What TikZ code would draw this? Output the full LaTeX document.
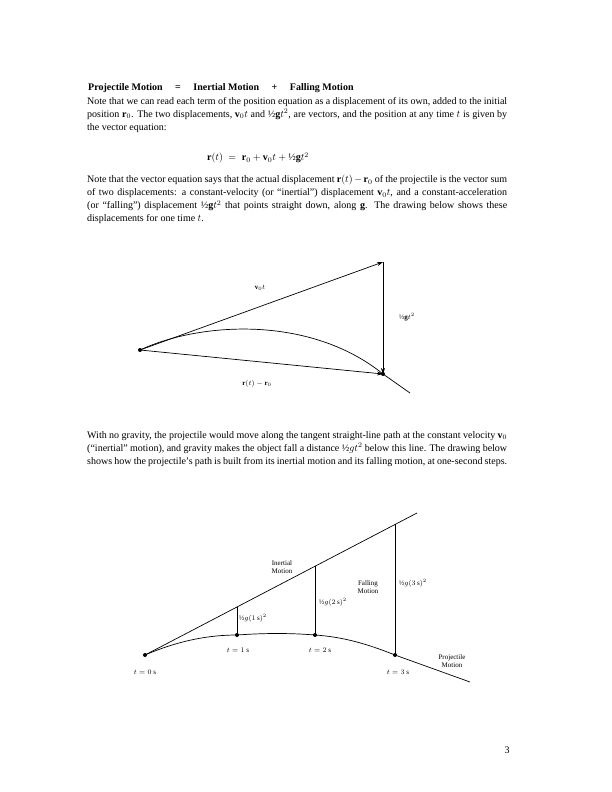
\documentclass[tikz,border=0pt]{standalone}
\usepackage{amsmath}
\usepackage{fontspec}
\setmainfont{Liberation Serif}
\usetikzlibrary{arrows.meta}

\newcommand{\hlf}{\text{\textonehalf}}
\newcommand{\bv}[1]{\text{\textbf{#1}}}

\tikzset{
  para/.style={anchor=north west, text width=420pt, align=justify, inner sep=0pt,
    font=\fontsize{10}{13}\selectfont},
  lbl/.style={font=\fontsize{7}{8}\selectfont, inner sep=1pt},
  vec/.style={-{Stealth[length=6pt,width=4pt]}, line width=0.7pt},
  path/.style={line width=0.7pt},
  dot/.style={circle, fill=black, inner sep=0pt, minimum size=4pt}
}

\begin{document}
\begin{tikzpicture}[x=1pt, y=-1pt]
    \useasboundingbox[fill=white] (0,0) rectangle (612,792);

    % text of the page
    \node[anchor=west, inner sep=0pt, font=\fontsize{10}{12}\bfseries] (title) at (88,88)
        {Projectile Motion \quad = \quad Inertial Motion \quad + \quad Falling Motion};
    \node[para] (par1) at (87,97)
        {Note that we can read each term of the position equation as a displacement of its own, added to the initial position $\bv{r}_0$. The two displacements, $\bv{v}_0t$ and $\hlf\bv{g}t^2$, are vectors, and the position at any time $t$ is given by the vector equation:};
    \node[inner sep=0pt, font=\fontsize{10}{12}\selectfont] (eqn) at (258,158)
        {$\bv{r}(t) \;=\; \bv{r}_0 + \bv{v}_0 t + \hlf\bv{g}t^2$};
    \node[para] (par2) at (87,175)
        {Note that the vector equation says that the actual displacement $\bv{r}(t)-\bv{r}_0$ of the projectile is the vector sum of two displacements: a constant-velocity (or ``inertial'') displacement $\bv{v}_0t$, and a constant-acceleration (or ``falling'') displacement $\hlf\bv{g}t^2$ that points straight down, along $\bv{g}$. The drawing below shows these displacements for one time $t$.};

    % first drawing
    \coordinate (O) at (140,350);
    \coordinate (A) at (383,262);
    \coordinate (B) at (383,374);
    \coordinate (E) at (410,393);
    \draw[vec] (O) -- (A);
    \draw[vec] (A) -- (B);
    \draw[vec] (O) -- (B);
    \draw[path] (O) .. controls (200,322) and (310,315) .. (B) -- (E);
    \node[dot] (Odot) at (O) {};
    \node[dot] (Bdot) at (B) {};
    \node[lbl] (vt) at (260,288) {$\bv{v}_0t$};
    \node[lbl] (gt) at (407,317) {$\hlf\bv{g}t^2$};
    \node[lbl] (dr) at (257,384) {$\bv{r}(t)-\bv{r}_0$};

    \node[para] (par3) at (87,431)
        {With no gravity, the projectile would move along the tangent straight-line path at the constant velocity $\bv{v}_0$ (``inertial'' motion), and gravity makes the object fall a distance $\hlf gt^2$ below this line. The drawing below shows how the projectile's path is built from its inertial motion and its falling motion, at one-second steps.};

    % second drawing
    \coordinate (S) at (145,655);
    \coordinate (L) at (417,513);
    \coordinate (I1) at (237,607);
    \coordinate (I2) at (315,566);
    \coordinate (I3) at (395,524);
    \coordinate (P1) at (237,635);
    \coordinate (P2) at (315,635);
    \coordinate (P3) at (395,655);
    \coordinate (F) at (470,682);
    \draw[path] (S) -- (L);
    \draw[path] (S) .. controls (180,640) and (210,635) .. (P1)
        .. controls (265,633) and (290,633) .. (P2)
        .. controls (345,637) and (370,645) .. (P3) -- (F);
    \draw[path] (I1) -- (P1);
    \draw[path] (I2) -- (P2);
    \draw[path] (I3) -- (P3);
    \node[dot] (Sdot) at (S) {};
    \node[dot] (P1dot) at (P1) {};
    \node[dot] (P2dot) at (P2) {};
    \node[dot] (P3dot) at (P3) {};
    \node[lbl] (t0) at (145,672) {$t=0$ s};
    \node[lbl] (t1) at (238,650) {$t=1$ s};
    \node[lbl] (t2) at (320,650) {$t=2$ s};
    \node[lbl] (t3) at (398,672) {$t=3$ s};
    \node[lbl] (g1) at (253,618) {$\hlf g(1\,\mathrm{s})^2$};
    \node[lbl] (g2) at (333,602) {$\hlf g(2\,\mathrm{s})^2$};
    \node[lbl] (g3) at (413,583) {$\hlf g(3\,\mathrm{s})^2$};
    \node[lbl, align=center] (inert) at (282,567) {Inertial\\Motion};
    \node[lbl, align=center] (fall) at (368,587) {Falling\\Motion};
    \node[lbl, align=center] (proj) at (452,661) {Projectile\\Motion};

    \node[font=\fontsize{10}{12}\selectfont] (pagenum) at (507,750) {3};
\end{tikzpicture}
\end{document}
